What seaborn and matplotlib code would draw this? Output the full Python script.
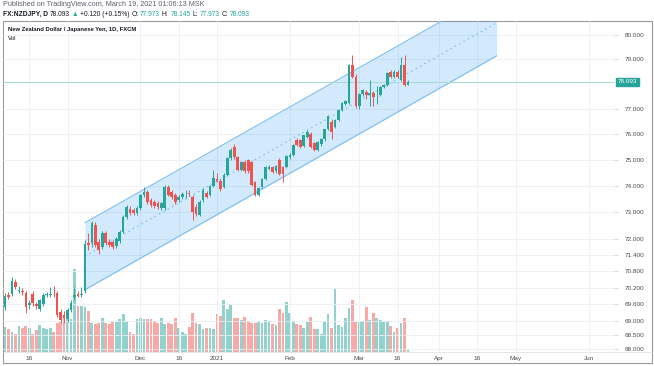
import matplotlib
matplotlib.use('Agg')
import matplotlib.pyplot as plt
from matplotlib.ticker import NullLocator
import seaborn as sns
import numpy as np
import pandas as pd

# NZDJPY daily candles, 2020-10-07 .. 2021-03-19
opens = [69.51, 69.93, 69.98, 70.42, 70.10, 70.08, 70.02, 69.58, 69.98, 69.60,
         69.45, 69.60, 69.93, 69.95, 69.99, 70.02, 69.33, 69.23, 69.08, 69.40,
         69.88, 69.97, 69.93, 70.10, 71.84, 71.84, 72.52, 71.88, 71.70, 72.22,
         71.88, 71.88, 71.72, 71.92, 72.26, 72.82, 73.12, 73.09, 72.95, 73.16,
         73.66, 73.77, 73.46, 73.38, 73.34, 73.16, 73.16, 73.96, 73.77, 73.66,
         73.46, 73.58, 73.72, 73.74, 73.58, 73.20, 72.90, 73.46, 73.73, 73.66,
         74.00, 74.28, 74.17, 73.95, 74.42, 75.08, 75.50, 75.10, 74.60, 74.90,
         75.00, 74.90, 74.15, 73.66, 73.95, 74.27, 74.64, 74.72, 74.55, 75.00,
         74.72, 74.72, 75.10, 75.20, 75.78, 75.78, 75.55, 75.90, 76.00, 75.65,
         75.40, 75.60, 75.80, 76.19, 76.50, 76.30, 76.58, 76.97, 77.20, 77.25,
         78.75, 78.30, 77.10, 77.60, 77.68, 77.57, 77.63, 77.55, 77.56, 77.88,
         77.96, 78.50, 78.30, 78.50, 78.16, 78.77, 77.973]
highs = [70.00, 70.05, 70.60, 70.52, 70.25, 70.20, 70.10, 69.75, 70.10, 69.70,
         69.80, 70.02, 70.05, 70.24, 70.25, 70.10, 69.45, 69.35, 69.48, 69.75,
         70.22, 70.10, 70.22, 71.95, 72.20, 72.65, 72.62, 71.98, 72.28, 72.30,
         71.98, 71.95, 72.05, 72.32, 72.88, 73.26, 73.22, 73.15, 73.22, 73.70,
         73.96, 73.84, 73.55, 73.45, 73.42, 73.40, 74.02, 74.05, 73.85, 73.72,
         73.65, 73.75, 73.84, 73.85, 73.66, 73.30, 73.45, 73.90, 73.80, 74.05,
         74.60, 74.50, 74.25, 74.48, 75.12, 75.45, 75.60, 75.15, 74.95, 74.98,
         75.05, 74.95, 74.20, 73.95, 74.30, 74.76, 74.80, 74.78, 74.80, 75.08,
         74.78, 75.20, 75.25, 75.62, 75.85, 75.82, 75.98, 76.15, 76.08, 75.70,
         75.75, 75.85, 76.22, 76.75, 76.60, 76.62, 77.00, 77.28, 77.35, 78.80,
         79.18, 78.40, 77.65, 77.80, 77.75, 78.16, 77.70, 77.90, 77.92, 78.00,
         78.48, 78.55, 78.55, 78.58, 79.10, 79.18, 78.145]
lows = [69.40, 69.80, 69.90, 70.15, 70.00, 69.95, 69.30, 69.45, 69.55, 69.45,
        69.38, 69.55, 69.85, 69.85, 69.88, 69.15, 68.98, 68.95, 68.98, 69.32,
        69.75, 69.85, 69.85, 70.00, 71.60, 71.70, 71.70, 71.45, 71.62, 71.78,
        71.70, 71.62, 71.65, 71.86, 72.20, 72.75, 72.90, 72.90, 72.88, 73.10,
        73.58, 73.32, 73.20, 73.15, 73.12, 73.08, 73.10, 73.60, 73.50, 73.32,
        73.40, 73.50, 73.54, 73.60, 72.72, 72.85, 72.85, 73.40, 73.52, 73.60,
        73.95, 74.15, 73.82, 73.90, 74.38, 75.00, 75.05, 74.55, 74.55, 74.50,
        74.50, 74.00, 73.60, 73.60, 73.90, 74.22, 74.60, 74.48, 74.50, 74.40,
        74.15, 74.68, 75.05, 75.15, 75.55, 75.45, 75.50, 75.85, 75.45, 75.35,
        75.35, 75.55, 75.75, 76.15, 75.80, 76.25, 76.52, 76.92, 77.15, 77.20,
        78.25, 77.05, 77.00, 77.50, 77.40, 77.10, 77.10, 77.20, 77.50, 77.82,
        77.90, 78.25, 78.25, 78.25, 78.10, 77.90, 77.973]
closes = [69.91, 69.86, 70.45, 70.24, 70.13, 70.04, 69.51, 69.65, 69.66, 69.53,
          69.75, 69.95, 69.97, 69.99, 69.96, 69.23, 69.05, 69.12, 69.40, 69.66,
          69.95, 69.90, 69.98, 71.81, 71.77, 72.58, 71.77, 71.60, 72.22, 71.84,
          71.77, 71.70, 71.99, 72.26, 72.82, 73.20, 72.97, 72.97, 73.16, 73.66,
          73.77, 73.38, 73.27, 73.23, 73.19, 73.34, 73.96, 73.66, 73.58, 73.38,
          73.58, 73.69, 73.74, 73.70, 73.00, 72.92, 73.38, 73.84, 73.58, 74.00,
          74.30, 74.20, 73.88, 74.42, 75.08, 75.40, 75.10, 74.60, 74.90, 74.55,
          74.55, 74.05, 73.66, 73.92, 74.27, 74.72, 74.72, 74.52, 74.76, 74.45,
          74.45, 75.15, 75.20, 75.58, 75.58, 75.50, 75.95, 76.10, 75.50, 75.40,
          75.70, 75.80, 76.19, 76.70, 76.10, 76.58, 76.97, 77.25, 77.30, 78.75,
          78.30, 77.10, 77.60, 77.76, 77.56, 77.65, 77.48, 77.57, 77.88, 77.96,
          78.44, 78.30, 78.50, 78.30, 78.77, 77.97, 78.093]
volumes = [24, 22, 20, 18, 25, 23, 25, 23, 18, 21, 26, 23, 22, 23, 20, 28, 30, 35, 37, 32,
           81, 45, 45, 44, 40, 28, 27, 28, 33, 28, 27, 29, 29, 32, 37, 30, 20, 18, 32, 33,
           32, 32, 32, 30, 28, 33, 27, 28, 27, 33, 23, 20, 18, 24, 38, 28, 27, 22, 23, 23,
           22, 37, 35, 51, 42, 47, 33, 33, 31, 34, 30, 28, 28, 29, 28, 31, 30, 27, 26, 42,
           38, 49, 38, 30, 27, 26, 23, 30, 34, 22, 22, 18, 30, 37, 23, 62, 26, 24, 33, 43,
           51, 29, 29, 30, 44, 31, 38, 33, 31, 30, 30, 25, 20, 23, 28, 33, 3]

# parallel channel drawn on the chart (anchor bar, price)
channel_bars = [23, 141.5]
channel_upper = [72.60, 81.88]
channel_mid = [71.36, 80.50]
channel_lower = [70.13, 79.14]
last_price = 78.093

price_ticks = [68.0, 68.5, 69.0, 69.6, 70.2, 70.8, 71.4, 72.0, 73.0, 74.0, 75.0, 76.0, 77.0, 79.0, 80.0]
date_ticks = ['2020-10-16', '2020-11-02', '2020-12-01', '2020-12-16', '2021-01-01', '2021-02-01',
              '2021-03-01', '2021-03-16', '2021-04-01', '2021-04-16', '2021-05-03', '2021-06-01']
date_labels = ['16', 'Nov', 'Dec', '16', '2021', 'Feb', 'Mar', '16', 'Apr', '16', 'May', 'Jun']

UP = '#26a69a'
DOWN = '#ef5350'
W, H = 654, 366

sns.set_style('white')
plt.rcParams['font.family'] = ['Liberation Sans', 'DejaVu Sans']

days = pd.bdate_range('2020-10-07', '2021-06-30')
days = days[days != pd.Timestamp('2020-12-25')]
tick_idx = [int(days.searchsorted(pd.Timestamp(d))) for d in date_ticks]

df = pd.DataFrame({'open': opens, 'high': highs, 'low': lows, 'close': closes, 'volume': volumes})
df['bar'] = np.arange(len(df))
df['dir'] = np.where(df['close'] >= df['open'], 'up', 'down')
colors = np.where(df['dir'] == 'up', UP, DOWN)

fig = plt.figure(figsize=(W / 100, H / 100), dpi=100)
rect = [3 / W, 14 / H, 611 / W, 331 / H]
axv = fig.add_axes(rect)
ax = fig.add_axes(rect)
ax.set_zorder(2)
ax.patch.set_visible(False)

# volume in the background
sns.barplot(data=df, x='bar', y='volume', hue='dir', palette={'up': '#92d2cc', 'down': '#f7a9a7'},
            native_scale=True, dodge=False, legend=False, width=0.8, saturation=1,
            linewidth=0, errorbar=None, ax=axv)
axv.set_ylim(0, 323)
xlim = (-0.58, 175.3)
axv.set_xlim(*xlim)
axv.set_xticks([])
axv.set_yticks([])
axv.set_xlabel('')
axv.set_ylabel('')
for s in axv.spines.values():
    s.set_visible(False)

# channel
ax.fill_between(channel_bars, channel_lower, channel_upper, color=(33 / 255, 150 / 255, 243 / 255, 0.2),
                linewidth=0, zorder=1)
ax.plot(channel_bars, channel_upper, color='#7cbcf2', lw=0.8, zorder=1.5)
ax.plot(channel_bars, channel_lower, color='#7cbcf2', lw=0.8, zorder=1.5)
ax.plot(channel_bars, channel_mid, color='#7cbcf2', lw=0.8, ls=(0, (1.5, 3)), zorder=1.5)

# candles
ax.vlines(df['bar'], df['low'], df['high'], colors=colors, lw=0.7, zorder=3)
body_lo = np.minimum(df['open'], df['close'])
body_h = np.maximum(np.abs(df['close'] - df['open']), 0.025)
ax.bar(df['bar'], body_h, bottom=body_lo, width=0.78, color=colors, linewidth=0, zorder=3)

ax.axhline(last_price, color='#a6dbd6', lw=0.8, zorder=2)

ax.set_yscale('log')
ax.set_ylim(67.91, 80.58)
ax.set_xlim(*xlim)
ax.yaxis.tick_right()
ax.set_yticks(price_ticks)
ax.set_yticklabels([f'{t:.3f}' for t in price_ticks])
ax.yaxis.set_minor_locator(NullLocator())
ax.set_xticks(tick_idx)
ax.set_xticklabels(date_labels)
ax.tick_params(axis='y', labelsize=4.6, colors='#c8cbd3', labelcolor='#4a4a4a', length=3, width=0.5, pad=5)
ax.tick_params(axis='x', labelsize=4.6, labelcolor='#4a4a4a', length=0, pad=3)
ax.grid(True, color='#eceff4', lw=0.6)
ax.set_axisbelow(True)
for s in ax.spines.values():
    s.set_visible(False)

ax.text(1.006, last_price, f'{last_price:.3f}', transform=ax.get_yaxis_transform(), fontsize=4.6,
        color='white', va='center', ha='left',
        bbox=dict(boxstyle='square,pad=0.25', fc=UP, ec=UP))

# frame around the chart
fig.add_artist(plt.Rectangle((3 / W, 3 / H), 649 / W, 342 / H, transform=fig.transFigure,
                             fill=False, ec='#9a9a9a', lw=0.8))
fig.add_artist(plt.Line2D([3 / W, 652 / W], [14 / H, 14 / H], transform=fig.transFigure,
                          color='#e0e3eb', lw=0.6))

# header texts
renderer = fig.canvas.get_renderer()


def text_run(x, y, parts, size):
    for txt, color, weight in parts:
        t = fig.text(x / W, 1 - y / H, txt, color=color, fontsize=size, fontweight=weight,
                     va='center', ha='left')
        x += t.get_window_extent(renderer).width + 1.8


fig.text(3 / W, 1 - 5 / H, 'Published on TradingView.com, March 19, 2021 01:06:13 MSK',
         fontsize=5.2, color='#5d606b', va='center')
text_run(3, 14.5, [('FX:NZDJPY, D', '#131722', 'bold'), ('78.093', '#131722', 'normal'),
                   ('\u25b2', UP, 'normal'), ('+0.120 (+0.15%)', '#131722', 'normal'),
                   ('O:', '#131722', 'normal'), ('77.973', UP, 'normal'),
                   ('H:', '#131722', 'normal'), ('78.145', UP, 'normal'),
                   ('L:', '#131722', 'normal'), ('77.973', UP, 'normal'),
                   ('C:', '#131722', 'normal'), ('78.093', UP, 'normal')], 4.8)
fig.text(8 / W, 1 - 29 / H, 'New Zealand Dollar / Japanese Yen, 1D, FXCM', fontsize=4.2,
         color='#131722', fontweight='bold', va='center')
fig.text(8 / W, 1 - 38 / H, 'Vol', fontsize=4.4, color='#131722', va='center')

fig.savefig('out.png', dpi=100)
